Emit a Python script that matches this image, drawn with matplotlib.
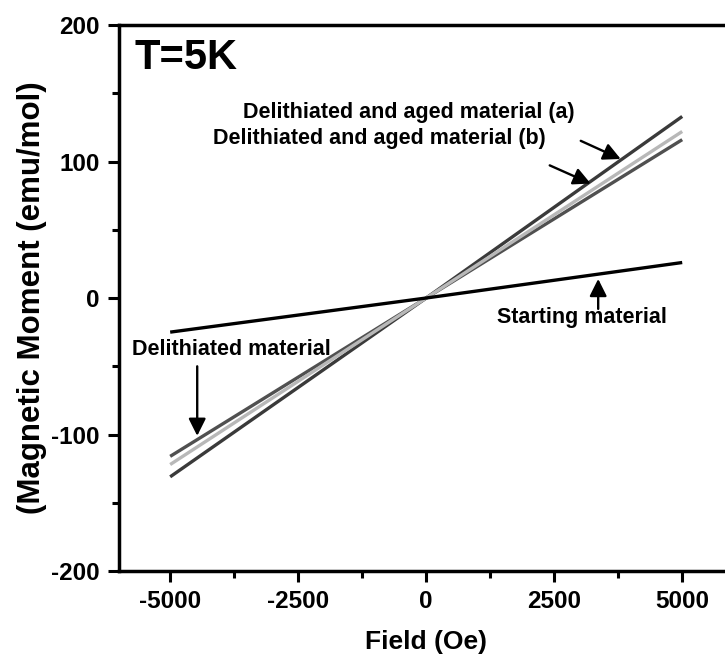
import matplotlib
matplotlib.use("Agg")
import matplotlib.pyplot as plt
from matplotlib.ticker import MultipleLocator

# --- data ---
field = [-5000, 0, 5000]
starting = [-25, 0, 26]
delithiated = [-116, 0, 116]
aged_a = [-131, 0, 133]
aged_b = [-122, 0, 122]

plt.rcParams['font.family'] = ['Liberation Sans', 'DejaVu Sans']
plt.rcParams['font.weight'] = 'bold'
plt.rcParams['axes.unicode_minus'] = False

fig = plt.figure(figsize=(7.25, 6.58), dpi=100)
# right spine sits just past the image edge, as in the original
ax = fig.add_axes([0.1641, 0.1322, 0.8475, 0.8298])

ax.plot(field, aged_a, color='#3a3a3a', lw=2.4, solid_capstyle='butt')
ax.plot(field, delithiated, color='#505050', lw=2.4, solid_capstyle='butt')
ax.plot(field, aged_b, color='#b8b8b8', lw=2.4, solid_capstyle='butt')
ax.plot(field, starting, color='black', lw=2.4, solid_capstyle='butt')

ax.set_xlim(-6000, 6000)
ax.set_ylim(-200, 200)
ax.xaxis.set_major_locator(MultipleLocator(2500))
ax.xaxis.set_minor_locator(MultipleLocator(1250))
ax.yaxis.set_major_locator(MultipleLocator(100))
ax.yaxis.set_minor_locator(MultipleLocator(50))

for s in ax.spines.values():
    s.set_linewidth(2.5)
ax.tick_params(which='major', direction='out', length=8, width=2.2,
               labelsize=17.5, pad=6)
ax.tick_params(which='minor', direction='out', length=5, width=2.2)
ax.tick_params(top=False, right=False, which='both')
for lab in ax.get_xticklabels() + ax.get_yticklabels():
    lab.set_fontweight('bold')

ax.set_xlabel('Field (Oe)', fontsize=19, fontweight='bold', labelpad=12)
ax.set_ylabel('(Magnetic Moment (emu/mol)', fontsize=22.5, fontweight='bold',
              labelpad=3)

ax.text(-5700, 176, 'T=5K', fontsize=30, fontweight='bold', va='center')

arrow = dict(arrowstyle='-|>', color='black', lw=1.7, mutation_scale=26)

ax.text(-3574, 136, 'Delithiated and aged material (a)', fontsize=15.5,
        fontweight='bold', va='center', ha='left')
ax.annotate('', xy=(3848, 101), xytext=(2969, 116), arrowprops=arrow)
ax.text(-4160, 117, 'Delithiated and aged material (b)', fontsize=15.5,
        fontweight='bold', va='center', ha='left')
ax.annotate('', xy=(3262, 83), xytext=(2363, 98), arrowprops=arrow)

ax.text(-5750, -38, 'Delithiated material', fontsize=15.5,
        fontweight='bold', va='center', ha='left')
ax.annotate('', xy=(-4472, -103), xytext=(-4472, -48), arrowprops=arrow)

ax.text(1380, -14, 'Starting material', fontsize=15.5,
        fontweight='bold', va='center', ha='left')
ax.annotate('', xy=(3359, 16), xytext=(3359, -10), arrowprops=arrow)

fig.savefig('out.png', dpi=100)
